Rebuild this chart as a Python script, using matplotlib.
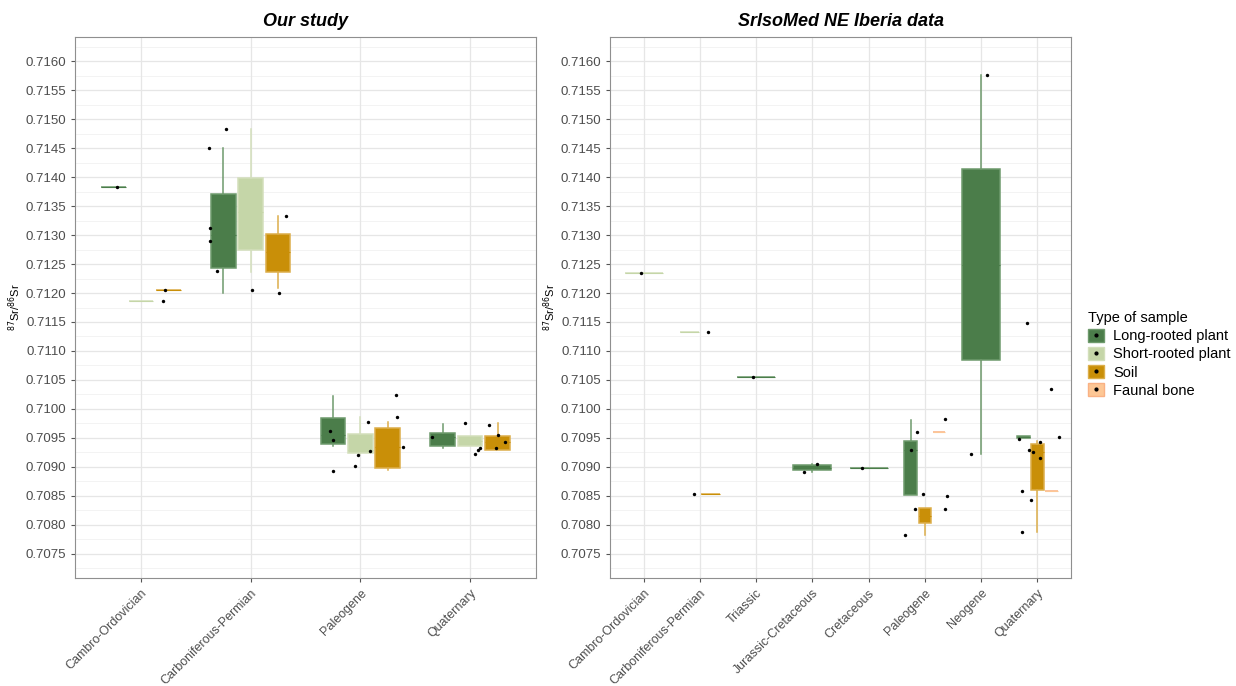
import matplotlib
matplotlib.use("Agg")
import matplotlib.pyplot as plt
from matplotlib.patches import Patch
from matplotlib.lines import Line2D
import numpy as np

plt.rcParams['font.family'] = ['Liberation Sans', 'DejaVu Sans']

# ---- data ----
sample_types = ["Long-rooted plant", "Short-rooted plant", "Soil", "Faunal bone"]
fill_colors = ["#4b7d4a", "#c5d6a8", "#c98f08", "#fdc795"]
edge_colors = ["#6e9a6c", "#d3dfbb", "#dcae4a", "#f9b184"]

our_categories = ["Cambro-Ordovician", "Carboniferous-Permian", "Paleogene", "Quaternary"]
# category, type, whisker low, q1, median, q3, whisker high
our_stats = [
    ("Cambro-Ordovician", "Long-rooted plant", 0.71382, 0.71382, 0.71382, 0.71382, 0.71382),
    ("Cambro-Ordovician", "Short-rooted plant", 0.71187, 0.71187, 0.71187, 0.71187, 0.71187),
    ("Cambro-Ordovician", "Soil", 0.71205, 0.71205, 0.71205, 0.71205, 0.71205),
    ("Carboniferous-Permian", "Long-rooted plant", 0.71200, 0.71243, 0.71300, 0.71370, 0.71450),
    ("Carboniferous-Permian", "Short-rooted plant", 0.71237, 0.71274, 0.71340, 0.71398, 0.71482),
    ("Carboniferous-Permian", "Soil", 0.71208, 0.71236, 0.71270, 0.71302, 0.71333),
    ("Paleogene", "Long-rooted plant", 0.70936, 0.70940, 0.70955, 0.70985, 0.71023),
    ("Paleogene", "Short-rooted plant", 0.70923, 0.70924, 0.70930, 0.70957, 0.70987),
    ("Paleogene", "Soil", 0.70895, 0.70899, 0.70935, 0.70967, 0.70978),
    ("Quaternary", "Long-rooted plant", 0.70933, 0.70937, 0.70951, 0.70959, 0.70974),
    ("Quaternary", "Short-rooted plant", 0.70936, 0.70936, 0.70945, 0.70954, 0.70954),
    ("Quaternary", "Soil", 0.70930, 0.70930, 0.70943, 0.70954, 0.70975),
]
our_point_cat = ["Cambro-Ordovician"] * 3 + ["Carboniferous-Permian"] * 8 + ["Paleogene"] * 10 + ["Quaternary"] * 9
our_point_val = [0.71382, 0.71187, 0.71205,
                 0.71450, 0.71482, 0.71312, 0.71290, 0.71238, 0.71206, 0.71333, 0.71200,
                 0.70962, 0.70946, 0.70893, 0.70978, 0.70928, 0.70920, 0.70901, 0.71024, 0.70986, 0.70935,
                 0.70951, 0.70975, 0.70922, 0.70929, 0.70933, 0.70973, 0.70955, 0.70943, 0.70933]
our_point_jitter = [-0.22, 0.20, 0.22,
                    -0.38, -0.22, -0.37, -0.37, -0.31, 0.01, 0.32, 0.26,
                    -0.28, -0.25, -0.25, 0.07, 0.09, -0.02, -0.05, 0.32, 0.33, 0.39,
                    -0.35, -0.05, 0.04, 0.07, 0.09, 0.17, 0.25, 0.32, 0.24]

ne_categories = ["Cambro-Ordovician", "Carboniferous-Permian", "Triassic", "Jurassic-Cretaceous",
                 "Cretaceous", "Paleogene", "Neogene", "Quaternary"]
ne_stats = [
    ("Cambro-Ordovician", "Short-rooted plant", 0.71234, 0.71234, 0.71234, 0.71234, 0.71234),
    ("Carboniferous-Permian", "Short-rooted plant", 0.71132, 0.71132, 0.71132, 0.71132, 0.71132),
    ("Carboniferous-Permian", "Soil", 0.70853, 0.70853, 0.70853, 0.70853, 0.70853),
    ("Triassic", "Long-rooted plant", 0.71055, 0.71055, 0.71055, 0.71055, 0.71055),
    ("Jurassic-Cretaceous", "Long-rooted plant", 0.70892, 0.70895, 0.70899, 0.70903, 0.70906),
    ("Cretaceous", "Long-rooted plant", 0.70898, 0.70898, 0.70898, 0.70898, 0.70898),
    ("Paleogene", "Long-rooted plant", 0.70851, 0.70851, 0.70930, 0.70944, 0.70981),
    ("Paleogene", "Soil", 0.70783, 0.70804, 0.70816, 0.70829, 0.70829),
    ("Paleogene", "Faunal bone", 0.70960, 0.70960, 0.70960, 0.70960, 0.70960),
    ("Neogene", "Long-rooted plant", 0.70922, 0.71085, 0.71249, 0.71413, 0.71576),
    ("Quaternary", "Long-rooted plant", 0.70950, 0.70950, 0.70951, 0.70953, 0.70953),
    ("Quaternary", "Soil", 0.70788, 0.70860, 0.70925, 0.70940, 0.70944),
    ("Quaternary", "Faunal bone", 0.70859, 0.70859, 0.70859, 0.70859, 0.70859),
]
ne_point_cat = (["Cambro-Ordovician"] + ["Carboniferous-Permian"] * 2 + ["Triassic"]
                + ["Jurassic-Cretaceous"] * 2 + ["Cretaceous"] + ["Paleogene"] * 8
                + ["Neogene"] * 2 + ["Quaternary"] * 11)
ne_point_val = [0.71234, 0.71132, 0.70853, 0.71055, 0.70892, 0.70906, 0.70898,
                0.70960, 0.70930, 0.70853, 0.70827, 0.70783, 0.70982, 0.70850, 0.70828,
                0.71576, 0.70922,
                0.70949, 0.71149, 0.71035, 0.70952, 0.70943, 0.70929, 0.70925, 0.70916,
                0.70859, 0.70843, 0.70788]
ne_point_jitter = [-0.05, 0.15, -0.11, -0.06, -0.15, 0.09, -0.12,
                   -0.14, -0.25, -0.04, -0.17, -0.35, 0.36, 0.40, 0.36,
                   0.11, -0.18,
                   -0.33, -0.19, 0.25, 0.39, 0.04, -0.14, -0.08, 0.05,
                   -0.28, -0.12, -0.28]

yticks = np.arange(0.7075, 0.71601, 0.0005)


def draw_panel(ax, categories, stats, point_cat, point_val, point_jitter, title):
    # minor / major grid like ggplot theme_bw
    for y in yticks:
        ax.axhline(y, color="#e6e6e6", lw=0.9, zorder=0)
        ax.axhline(y + 0.00025, color="#f1f1f1", lw=0.6, zorder=0)
    ax.axhline(yticks[0] - 0.00025, color="#f1f1f1", lw=0.6, zorder=0)
    for i in range(len(categories)):
        ax.axvline(i, color="#e6e6e6", lw=0.9, zorder=0)

    for ci, cat in enumerate(categories):
        rows = [r for r in stats if r[0] == cat]
        rows.sort(key=lambda r: sample_types.index(r[1]))
        n = len(rows)
        slot = 0.75 / n
        for j, r in enumerate(rows):
            t = sample_types.index(r[1])
            pos = ci - 0.375 + slot * (j + 0.5)
            st = dict(whislo=r[2], q1=r[3], med=r[4], q3=r[5], whishi=r[6])
            ax.bxp([st], positions=[pos], widths=slot * 0.9, patch_artist=True,
                   showfliers=False, showcaps=False,
                   boxprops=dict(facecolor=fill_colors[t], edgecolor=edge_colors[t], lw=1.1),
                   whiskerprops=dict(color=edge_colors[t], lw=1.1),
                   medianprops=dict(color=fill_colors[t], lw=0.8),
                   manage_ticks=False, zorder=2)

    px = [categories.index(c) + j for c, j in zip(point_cat, point_jitter)]
    ax.scatter(px, point_val, s=6, color="black", zorder=3, linewidths=0)

    ax.set_xlim(-0.6, len(categories) - 0.4)
    ax.set_ylim(0.707086, 0.716414)
    ax.set_yticks(yticks)
    ax.set_yticklabels([f"{v:.4f}" for v in yticks])
    ax.set_xticks(range(len(categories)))
    ax.set_xticklabels(categories, rotation=45, ha="right", rotation_mode="anchor", fontsize=9)
    ax.tick_params(axis="y", labelsize=9.5)
    ax.tick_params(colors="#555555", length=3, width=0.8, labelcolor="#4d4d4d")
    for s in ax.spines.values():
        s.set_color("#8f8f8f")
        s.set_linewidth(0.8)
    ax.set_ylabel(r"$^{87}$Sr/$^{86}$Sr", fontsize=8, labelpad=2)
    ax.set_title(title, fontsize=13, fontweight="bold", fontstyle="italic", pad=8)


fig = plt.figure(figsize=(12.36, 6.86), dpi=100)
ax1 = fig.add_axes([75 / 1236, 108 / 686, 461 / 1236, 541 / 686])
ax2 = fig.add_axes([610 / 1236, 108 / 686, 461 / 1236, 541 / 686])

draw_panel(ax1, our_categories, our_stats, our_point_cat, our_point_val, our_point_jitter, "Our study")
draw_panel(ax2, ne_categories, ne_stats, ne_point_cat, ne_point_val, ne_point_jitter,
           "SrIsoMed NE Iberia data")

handles = []
for t in range(len(sample_types)):
    handles.append((Patch(facecolor=fill_colors[t], edgecolor=edge_colors[t]),
                    Line2D([], [], marker="o", color="black", ms=2, ls="")))
leg = fig.legend(handles, sample_types, title="Type of sample", loc="upper left",
                 bbox_to_anchor=(1075 / 1236, 1 - 298 / 686), frameon=False,
                 fontsize=10.5, title_fontsize=10.5, handlelength=1.1, handleheight=1.0,
                 handletextpad=0.6, labelspacing=0.25)
leg._legend_box.align = "left"

fig.savefig("out.png", dpi=100)
